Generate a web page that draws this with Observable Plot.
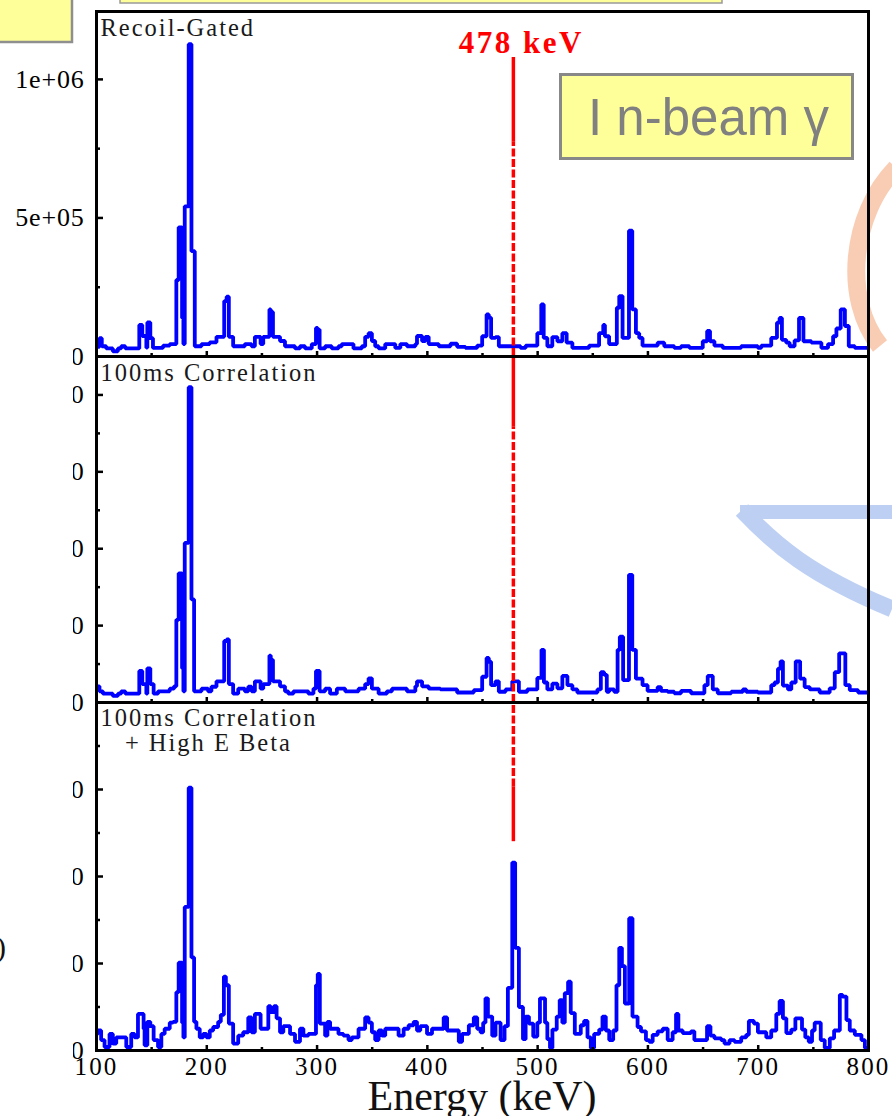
<!DOCTYPE html>
<html><head><meta charset="utf-8">
<script src="https://cdn.jsdelivr.net/npm/d3@7"></script>
<script src="https://cdn.jsdelivr.net/npm/@observablehq/plot@0.6"></script>
<style>
html,body{margin:0;padding:0;background:#fff;}
#page{position:relative;width:892px;height:1116px;overflow:hidden;background:#fff;}
.abs{position:absolute;left:0;}
</style></head>
<body><div id="page">
<svg id="deco" class="abs" style="top:0" width="892" height="1116">
  <path d="M740,512 H892" stroke="#bdd0f3" stroke-width="14" fill="none"/>
  <path d="M742,510 C775,545 810,575 892,609" stroke="#bdd0f3" stroke-width="17" fill="none"/>
  <path d="M896,168 C850,215 843,300 880,346" stroke="#f9cdb4" stroke-width="18" fill="none"/>
</svg>
<div id="p1" class="abs" style="top:0"></div>
<div id="p2" class="abs" style="top:351px"></div>
<div id="p3" class="abs" style="top:697px"></div>
<svg id="over" class="abs" style="top:0" width="892" height="1116">
  <rect x="-5" y="-5" width="77" height="47" fill="#ffff99" stroke="#8f8f8f" stroke-width="2.5"/>
  <rect x="120" y="-40" width="602" height="43" fill="#ffff99" stroke="#9a9a9a" stroke-width="1.5"/>
  <rect x="560.5" y="74.5" width="292" height="84" fill="#ffff99" stroke="#888" stroke-width="3"/>
  <text x="588" y="135" font-family="'Liberation Sans', Arial, sans-serif" font-size="51" fill="#808080">I n-beam γ</text>
  <rect x="0" y="346" width="73" height="770" fill="#fff"/>
  <text x="-4" y="957" font-family="'Liberation Serif', serif" font-size="30" fill="#111">)</text>
</svg>
</div>
<script>
// ---- data: step spectra, [bin start energy (keV), counts] ----
// Panel 1: Recoil-Gated (counts in thousands)
const recoilGatedK = [[100,35],[102.7,66],[104.8,37],[108.8,29],[114.8,19],[119.4,29],[122.4,37],[126.1,29],[138.8,114],[141.5,74],[145.2,32],[146.1,123],[148.8,66],[151.2,31],[160.3,39],[166.4,45],[172.4,276],[174.5,466],[177.6,139],[178.8,45],[180,542],[183.6,1127],[186.1,380],[189.1,37],[195.2,45],[202.7,51],[208.8,71],[215.8,200],[218,216],[220,71],[223.9,37],[234.5,45],[240.6,37],[243.6,71],[248.8,45],[251.2,71],[256.8,170],[258,161],[260,71],[266.4,56],[270.9,37],[280,29],[284.5,37],[289.1,29],[295.2,45],[299,103],[300.5,97],[302.3,29],[307.3,37],[313.3,29],[319.4,37],[322.4,45],[333,29],[340.6,37],[343.6,71],[346.7,84],[349.7,56],[352.7,37],[355.8,29],[361.8,45],[370.9,31],[375.5,45],[381.5,37],[389.1,45],[390.6,74],[395.2,56],[398.2,71],[401.2,45],[410.3,37],[421,46],[427,35],[434.5,31],[445.1,39],[449.7,73],[453.7,152],[455.7,140],[457.8,67],[461.8,70],[464.8,37],[484.5,31],[489.1,39],[499.7,84],[503.3,188],[505.5,67],[508.8,37],[513.3,70],[517.9,55],[522.4,84],[526.3,50],[531.5,31],[546.6,39],[555.7,84],[559.5,114],[561,73],[564.8,45],[571.8,176],[574,218],[577,67],[582.8,454],[585.8,170],[589.1,84],[592.1,67],[595.1,39],[608.8,50],[614.8,37],[623.9,31],[630,37],[637.6,31],[649.7,55],[653.7,92],[656.3,55],[660.3,39],[667.9,31],[684.5,37],[699.7,31],[702.7,39],[711.8,67],[717,122],[719.4,139],[721.5,60],[725.4,50],[728.5,37],[733,58],[737,139],[741,55],[748.2,50],[757.3,31],[763.3,45],[767.9,73],[770.9,101],[774.8,170],[778.6,110],[782.1,37],[787.6,31],[800,31]];
// Panel 2: 100ms Correlation (counts in thousands)
const corr100K = [[100,4.2],[102.7,2.9],[105.8,2.3],[114.8,1.7],[119.4,2.3],[122.4,2.9],[126.1,2.3],[138.8,8.2],[141.5,4.8],[145.2,2.3],[146.1,8.9],[148.8,4.8],[151.8,2.3],[155.8,2.9],[166.4,3.6],[170.3,4.2],[172.4,21.5],[174.5,33.6],[177.6,8.9],[178.8,2.9],[180,41.5],[183.6,82],[186.1,26.8],[188.5,2.9],[195.2,3.6],[201.2,2.9],[204.2,4.1],[208.8,5.5],[215.8,16],[218,16.4],[220,4.8],[223.9,2.3],[228.5,3.6],[234.5,2.9],[237.6,4.1],[240.6,2.9],[243.6,5.5],[248.8,3.6],[251.2,4.8],[256.8,12.2],[258,11.1],[260,5.5],[266.4,4.2],[270.9,2.9],[273.9,2.3],[278.5,2.9],[292.1,2.3],[296.7,3.6],[299,8.2],[302.3,2.9],[307.3,3.6],[311.8,2.3],[317.9,3.6],[325.5,2.9],[337.6,3.6],[343.6,4.8],[346.7,6.3],[349.7,3.6],[355.8,2.3],[363.3,2.9],[367.9,3.6],[381.5,2.9],[389.1,4.2],[390.6,5.5],[395.2,4.2],[401.2,3.6],[411.8,3.4],[427,2.6],[442.1,3.2],[449.7,6.7],[453.7,11.6],[455.7,10.6],[457.8,4.5],[461.8,5.5],[464.8,2.8],[470.9,3.4],[477,5.5],[483,2.8],[490.6,3.4],[499.7,6.4],[503.5,13.7],[505.7,5.2],[508.8,3.4],[513.3,4.9],[517.9,3.7],[522.4,6.9],[527,4.5],[531.5,3.4],[536,2.6],[554.2,3.4],[557.3,7.9],[560.3,7.2],[562.7,2.8],[564.8,3.4],[569.4,2.8],[572.5,13.7],[574.5,17.1],[577.5,5.8],[582.8,33.2],[585.8,13.7],[589.1,6.2],[595.1,4.5],[599.7,3],[608.8,4],[611.8,3],[617.9,2.8],[623.9,2.4],[630,3],[639.1,2.4],[651.2,4.5],[654.2,6.9],[658.8,3.4],[663.3,2.4],[675.5,2.8],[686.1,3.4],[689.1,2.8],[699.7,2.6],[711.8,4.5],[714.8,5.2],[717.9,8.8],[720.3,10.7],[722.4,4.4],[727,3.4],[730,5.2],[734,10.7],[738,6.2],[742.1,4],[746.7,3.4],[755.7,2.6],[764.8,3.7],[769.4,7.9],[773.4,12.8],[779,4.5],[783,3.2],[790.6,2.6],[800,2.6]];
// Panel 3: 100ms Correlation + High E Beta (counts)
const corrBeta = [[100,19],[101.2,23],[104.2,12],[107.3,4],[111.8,19],[114.8,8],[117.9,15],[127,4],[131.5,19],[134.5,15],[137.6,42],[142.7,25],[143.6,6],[146.1,33],[148.8,28],[151.8,12],[155.8,4],[158.8,19],[161.8,25],[166.4,32],[169.4,33],[172.4,67],[174.5,101],[177.6,32],[178.8,15],[180,165],[183.6,302],[186.1,107],[188.5,33],[190.6,25],[193.6,15],[196.7,19],[199.7,15],[202.7,23],[205.8,27],[210.3,33],[212.7,41],[215.5,85],[217.3,75],[220,31],[223.9,8],[228.5,17],[233,21],[237.6,38],[240.6,21],[243.6,42],[248.8,25],[255.8,51],[257.9,44],[260.9,51],[263.3,37],[266.4,21],[269.4,28],[275.5,19],[280,10],[284.5,25],[287.6,17],[292.1,19],[299,75],[300.6,88],[302.5,31],[307.3,17],[309.4,33],[311.8,25],[319.4,19],[323.9,17],[328.5,12],[331.5,15],[337.6,25],[343.6,38],[346.7,32],[349.7,21],[352.7,12],[355.8,23],[358.8,17],[361.8,25],[373.9,17],[378.5,25],[383,29],[387.6,33],[390.6,23],[393.6,28],[399.7,19],[404.2,25],[414.8,38],[417.9,23],[428.5,10],[431.5,19],[437.6,29],[442.1,38],[445.2,25],[448.2,21],[450.6,32],[452.7,60],[454.9,39],[458.8,17],[461.8,32],[466.4,12],[470,28],[473,72],[477,216],[479.6,118],[483,50],[486.7,13],[489.1,39],[492.1,31],[496,16],[499.7,32],[502.1,60],[506.7,32],[508.8,13],[511.2,3],[513.4,24],[517.3,39],[520,58],[522.4,32],[524.6,66],[527.6,79],[530,43],[533.7,19],[539.1,29],[542.1,34],[545.2,15],[548.2,3],[551.2,19],[555.8,24],[558.8,39],[561.8,23],[564.9,12],[568.5,23],[571.5,75],[574,118],[576.4,97],[579.1,54],[583,152],[586,39],[590.6,27],[593.7,22],[598.2,12],[601.2,10],[604.3,18],[608.8,22],[613.4,25],[617.9,12],[622.4,21],[625.5,42],[627.6,23],[631.5,20],[639.1,22],[642.1,12],[653.6,28],[656.7,17],[660.3,14],[666.4,12],[669.4,8],[674,12],[678.5,10],[684.6,15],[689.1,18],[691.5,34],[696.1,31],[699.7,21],[707.3,15],[711.8,23],[716.4,42],[719.4,57],[722.4,37],[725.5,20],[730,24],[733.7,37],[739.7,24],[742.7,15],[745.8,10],[748.8,23],[751.2,32],[756.7,12],[760.3,3],[764.9,14],[768.8,23],[774,64],[776.4,62],[780,35],[783,23],[787.6,18],[793.6,12],[796.7,3],[800,3]];

const panelLabels = ["Recoil-Gated", "100ms Correlation", "100ms Correlation\n   + High E Beta"];
const markerEnergy = 478;
const markerText = "478 keV";
const xMajor = [100, 200, 300, 400, 500, 600, 700, 800];
const xMinor = [150, 250, 350, 450, 550, 650, 750];
const y1Major = [0, 500, 1000], y1Minor = [250, 750];          // thousands
const y2Major = [0, 20, 40, 60, 80], y2Minor = [10, 30, 50, 70]; // thousands
const y3Major = [0, 100, 200, 300], y3Minor = [50, 150, 250, 350];
// red marker line extents in each panel's units: [y1, y2, dashed?]
const marker1 = [[773, 1079, false], [0, 773, true]];
const marker2 = [[71.7, 90, false], [0, 71.7, true]];
const marker3 = [[303, 400, true], [240, 303, false]];

const serif = "'Liberation Serif', 'Times New Roman', serif";
const BLUE = "#0000ff", RED = "#ff0000";
const sci = v => v === 0 ? "0" : v.toExponential().replace(/e([+-])(\d)$/, "e$10$2");

function makePanel({series, yDomain, yMajor, yMinor, yFmt, label, labelDy, marker, height, mt, mb, withX, withMarkerText}) {
  const marks = [
    Plot.line(series, {x: d => d[0], y: d => d[1], curve: "step-after", stroke: BLUE, strokeWidth: 3.8,
      strokeLinejoin: "miter", strokeLinecap: "butt"}),
    Plot.ruleX(marker.filter(m => !m[2]), {x: () => markerEnergy, y1: m => m[0], y2: m => m[1], stroke: RED, strokeWidth: 3.5}),
    Plot.ruleX(marker.filter(m => m[2]), {x: () => markerEnergy, y1: m => m[0], y2: m => m[1], stroke: RED, strokeWidth: 3.5, strokeDasharray: "8,2.5"}),
    Plot.frame({stroke: "#000", strokeWidth: 3}),
    Plot.axisX({ticks: xMajor, tickSize: -5, tickFormat: () => "", strokeWidth: 2.5, label: null}),
    Plot.axisX({ticks: xMinor, tickSize: -3, tickFormat: () => "", strokeWidth: 2.5, label: null}),
    Plot.axisY({ticks: yMajor, tickSize: -7, tickFormat: () => "", strokeWidth: 2.5, label: null}),
    Plot.axisY({ticks: yMinor, tickSize: -4, tickFormat: () => "", strokeWidth: 2.5, label: null}),
    Plot.axisY({ticks: yMajor, tickSize: 0, tickPadding: 12, tickFormat: yFmt, fontSize: 26, fontFamily: serif, label: null}),
    Plot.text([label], {text: d => d, frameAnchor: "top-left", textAnchor: "start", lineAnchor: "top", dx: 4, dy: labelDy,
      fontSize: 24.5, lineHeight: 1.02, fontFamily: serif, fill: "#1a1a1a"})
  ];
  if (withMarkerText) marks.push(Plot.text([markerEnergy], {x: d => d, text: () => markerText, frameAnchor: "top", lineAnchor: "top",
    dy: 19, dx: 8, fill: RED, fontWeight: "bold", fontSize: 31, fontFamily: serif}));
  if (withX) marks.push(Plot.axisX({ticks: xMajor, tickSize: 0, tickPadding: 7, tickFormat: d => String(d), fontSize: 25, fontFamily: serif, label: null}));
  const svg = Plot.plot({
    width: 892, height, marginLeft: 96, marginRight: 24, marginTop: mt, marginBottom: mb,
    style: {background: "transparent", overflow: "visible"},
    x: {domain: [100, 800], label: null},
    y: {domain: yDomain, label: null},
    marks
  });
  // slight horizontal widening of the serif texts, as in the reference
  const s = d3.select(svg);
  const spacing = {"24.5": "2px", "31": "2.5px", "25": "2.2px", "26": "0.8px"};
  s.selectAll("g[font-size]").each(function () {
    const fs = this.getAttribute("font-size");
    if (spacing[fs]) d3.select(this).style("letter-spacing", spacing[fs]);
  });
  return svg;
}

document.getElementById("p1").appendChild(makePanel({
  series: recoilGatedK, yDomain: [0, 1245], yMajor: y1Major, yMinor: y1Minor, yFmt: d => sci(d * 1000),
  label: panelLabels[0], labelDy: 6.6, marker: marker1, height: 361, mt: 11, mb: 5, withMarkerText: true
}));
document.getElementById("p2").appendChild(makePanel({
  series: corr100K, yDomain: [0, 90], yMajor: y2Major, yMinor: y2Minor, yFmt: d => String(d * 1000),
  label: panelLabels[1], labelDy: 6.6, marker: marker2, height: 356, mt: 5, mb: 5
}));
document.getElementById("p3").appendChild(makePanel({
  series: corrBeta, yDomain: [0, 400], yMajor: y3Major, yMinor: y3Minor, yFmt: d => String(d),
  label: panelLabels[2], labelDy: 5.6, marker: marker3, height: 419, mt: 5, mb: 66, withX: true
}));
const xl = document.createElement("div");
xl.textContent = "Energy (keV)";
xl.style.cssText = "position:absolute;left:0;width:964px;text-align:center;top:1081px;font:42px 'Liberation Serif',serif;line-height:30px;color:#111;white-space:nowrap;";
document.getElementById("page").appendChild(xl);
// keep overlay on top
document.getElementById("page").appendChild(document.getElementById("over"));
</script>
</body></html>
